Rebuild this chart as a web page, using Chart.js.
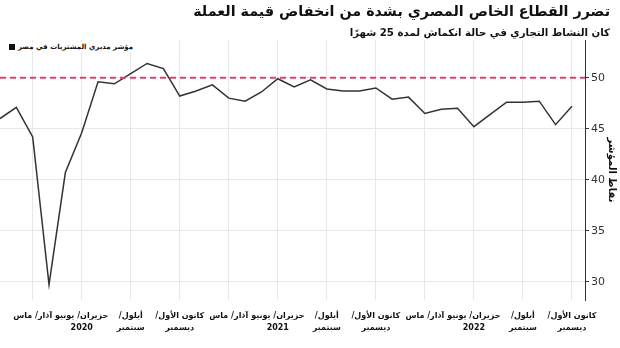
<!DOCTYPE html>
<html lang="ar">
<head>
<meta charset="utf-8">
<script src="https://cdn.jsdelivr.net/npm/chart.js@4/dist/chart.umd.min.js"></script>
<style>
    body { margin: 0; background: #fff; font-family: "DejaVu Sans", sans-serif; }
    #wrap { position: relative; width: 620px; height: 348px; }
    #chart { position: absolute; left: 0; top: 0; }
    .title { position: absolute; right: 10px; top: 3px; direction: rtl; font-weight: bold; font-size: 14.3px; color: #111; white-space: nowrap; }
    .subtitle { position: absolute; right: 10px; top: 27px; direction: rtl; font-weight: bold; font-size: 10.2px; color: #111; white-space: nowrap; }
    .legend { position: absolute; left: 6px; top: 42px; background: #fff; padding: 1px 3px; display: flex; align-items: center; font-weight: bold; font-size: 7px; color: #111; white-space: nowrap; }
    .legend .box { width: 6px; height: 6px; background: #111; margin-right: 3px; }
</style>
</head>
<body>
<div id="wrap">
    <canvas id="chart" width="620" height="348"></canvas>
    <div class="title">تضرر القطاع الخاص المصري بشدة من انخفاض قيمة العملة</div>
    <div class="subtitle">كان النشاط التجاري في حالة انكماش لمدة 25 شهرًا</div>
    <div class="legend"><span class="box"></span><span dir="rtl">مؤشر مديري المشتريات في مصر</span></div>
</div>
<script>
// Egypt PMI, monthly, Jan 2020 .. Dec 2022 (index 0 = Jan 2020)
const pmiValues = [
    46.0, 47.1, 44.2, 29.7, 40.7, 44.6, 49.6, 49.4, 50.4, 51.4, 50.9, 48.2,
    48.7, 49.3, 48.0, 47.7, 48.6, 49.9, 49.1, 49.8, 48.9, 48.7, 48.7, 49.0,
    47.9, 48.1, 46.5, 46.9, 47.0, 45.2, 46.4, 47.6, 47.6, 47.7, 45.4, 47.2
];
const threshold = 50;

const tickMonths = [2, 5, 8, 11, 14, 17, 20, 23, 26, 29, 32, 35];
const tickLabels = [
    ['آذار/ ماس'],
    ['حزيران/ يونيو', '2020'],
    ['أيلول/', 'سبتمبر'],
    ['كانون الأول/', 'ديسمبر'],
    ['آذار/ ماس'],
    ['حزيران/ يونيو', '2021'],
    ['أيلول/', 'سبتمبر'],
    ['كانون الأول/', 'ديسمبر'],
    ['آذار/ ماس'],
    ['حزيران/ يونيو', '2022'],
    ['أيلول/', 'سبتمبر'],
    ['كانون الأول/', 'ديسمبر']
];
const yTicks = [30, 35, 40, 45, 50];

const xMax = 35.8;

const pmiPoints = pmiValues.map((v, i) => ({ x: i, y: v }));
const thresholdPoints = [{ x: 0, y: threshold }, { x: xMax, y: threshold }];

// axis labels are Arabic, so lay canvas text out right-to-left
const rtlText = {
    id: 'rtlText',
    beforeDraw: chart => { chart.ctx.direction = 'rtl'; }
};

new Chart(document.getElementById('chart'), {
    type: 'line',
    plugins: [rtlText],
    data: {
        datasets: [
            {
                data: thresholdPoints,
                borderColor: '#d9466a',
                borderWidth: 2,
                borderDash: [6, 4],
                pointRadius: 0
            },
            {
                data: pmiPoints,
                borderColor: '#333',
                borderWidth: 1.5,
                pointRadius: 0,
                tension: 0
            }
        ]
    },
    options: {
        responsive: false,
        animation: false,
        layout: { padding: { top: 40, left: 0, right: 0, bottom: 0 } },
        plugins: { legend: { display: false }, tooltip: { enabled: false } },
        scales: {
            x: {
                type: 'linear',
                min: 0,
                max: xMax,
                afterBuildTicks: scale => { scale.ticks = tickMonths.map(v => ({ value: v })); },
                afterFit: scale => { scale.height = 48; },
                grid: { color: '#e8e8e8', drawTicks: false },
                border: { display: false },
                ticks: {
                    autoSkip: false,
                    maxRotation: 0,
                    padding: 10,
                    color: '#111',
                    font: { family: 'DejaVu Sans', size: 8, weight: 'bold', lineHeight: 1.5 },
                    callback: value => tickLabels[tickMonths.indexOf(value)]
                }
            },
            y: {
                position: 'right',
                min: 28.2,
                max: 53.7,
                afterBuildTicks: scale => { scale.ticks = yTicks.map(v => ({ value: v })); },
                afterFit: scale => { scale.width = 35; },
                grid: { color: '#e8e8e8', tickColor: '#333', tickLength: 4 },
                border: { display: true, color: '#333', width: 1 },
                ticks: {
                    padding: 2,
                    color: '#333',
                    font: { family: 'DejaVu Sans', size: 11 }
                },
                title: {
                    display: true,
                    text: 'نقاط المؤشر',
                    color: '#111',
                    padding: { top: 2, bottom: 0 },
                    font: { family: 'DejaVu Sans', size: 10, weight: 'bold' }
                }
            }
        }
    }
});
</script>
</body>
</html>
